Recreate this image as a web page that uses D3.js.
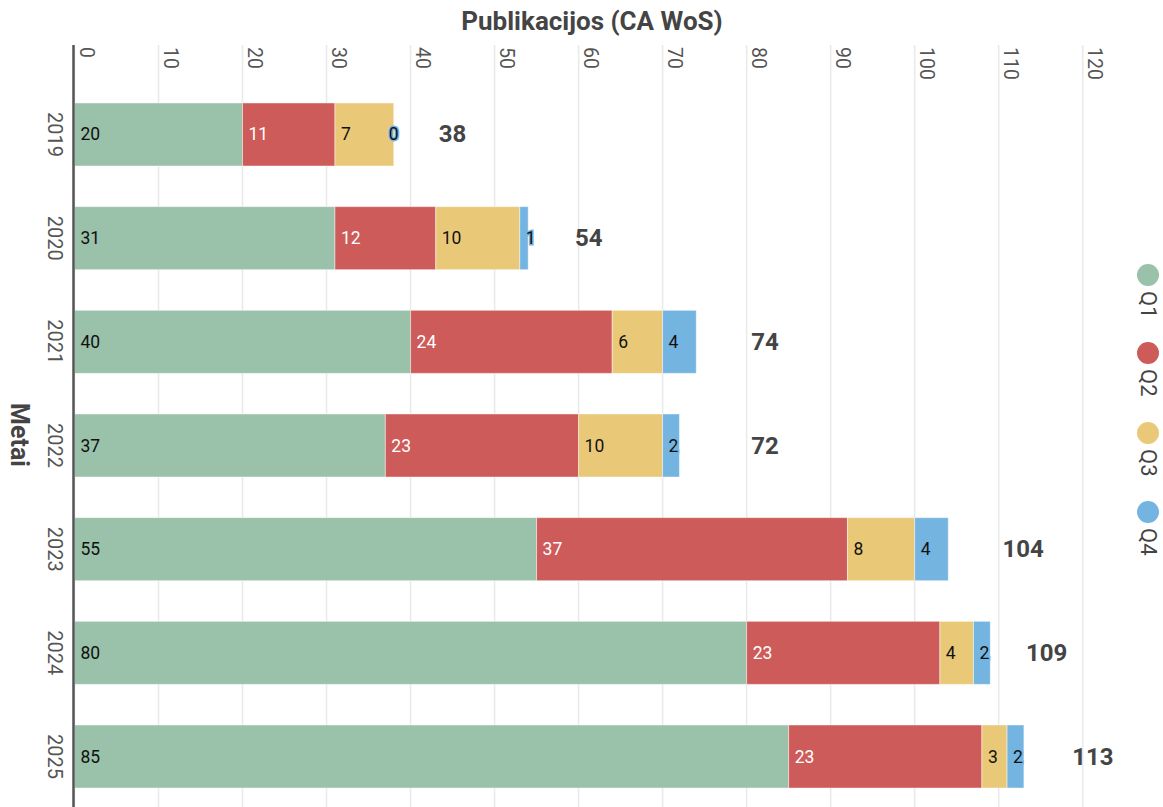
<!DOCTYPE html>
<html>
<head>
<meta charset="utf-8">
<script src="https://cdn.jsdelivr.net/npm/d3@7"></script>
<style>
  html, body { margin: 0; padding: 0; background: #fff; }
  svg { display: block; font-family: Roboto, "Noto Sans", sans-serif; }
</style>
</head>
<body>
<svg id="chart" width="1163" height="807"></svg>
<script>
const years = ["2019", "2020", "2021", "2022", "2023", "2024", "2025"];
const seriesNames = ["Q1", "Q2", "Q3", "Q4"];
const q1 = [20, 31, 40, 37, 55, 80, 85];
const q2 = [11, 12, 24, 23, 37, 23, 23];
const q3 = [7, 10, 6, 10, 8, 4, 3];
const q4 = [0, 1, 4, 2, 4, 2, 2];
const totals = [38, 54, 74, 72, 104, 109, 113];
// where the total labels sit (centre, in axis units)
const totalLabelAt = [45, 61.2, 82.2, 82.2, 112.9, 115.7, 121.2];
const xTicks = [0, 10, 20, 30, 40, 50, 60, 70, 80, 90, 100, 110, 120];
const colors = ["#9ac1aa", "#cd5b59", "#e9c978", "#74b4e1"];
const labelColors = ["#111", "#fff", "#111", "#111"];

const svg = d3.select("#chart");
const x = d3.scaleLinear().domain([0, 120]).range([74.5, 1082.7]);
const y = d3.scaleBand().domain(years).range([84, 807]).paddingInner(0.392).paddingOuter(0.183);

const values = [q1, q2, q3, q4];
const rows = years.map((yr, i) => {
  const r = { year: yr };
  seriesNames.forEach((s, k) => r[s] = values[k][i]);
  return r;
});
const stacked = d3.stack().keys(seriesNames)(rows);

// grid
svg.append("g").selectAll("line").data(xTicks).join("line")
  .attr("x1", d => x(d)).attr("x2", d => x(d))
  .attr("y1", 45).attr("y2", 807)
  .attr("stroke", "#e9e9e9").attr("stroke-width", 1.5);

// tick labels (rotated)
svg.append("g").selectAll("text").data(xTicks).join("text")
  .attr("transform", d => `translate(${x(d) + 12},47) rotate(90)`)
  .attr("text-anchor", "start")
  .attr("dominant-baseline", "central")
  .attr("font-size", 19.5)
  .attr("fill", "#555")
  .text(d => d);

// bars
const g = svg.append("g");
stacked.forEach((layer, k) => {
  g.append("g").selectAll("rect").data(layer).join("rect")
    .attr("x", d => x(d[0]))
    .attr("y", d => y(d.data.year))
    .attr("width", d => x(d[1]) - x(d[0]))
    .attr("height", y.bandwidth())
    .attr("fill", colors[k])
    .attr("stroke", "#fff").attr("stroke-opacity", 0.45).attr("stroke-width", 1);
});
// segment labels
stacked.forEach((layer, k) => {
  g.append("g").selectAll("text").data(layer).join("text")
    .attr("x", d => (d[1] - d[0]) === 0 ? x(d[0]) : x(d[0]) + 6)
    .attr("y", d => y(d.data.year) + y.bandwidth() / 2)
    .attr("text-anchor", d => (d[1] - d[0]) === 0 ? "middle" : "start")
    .attr("dominant-baseline", "central")
    .attr("font-size", 17.5)
    .attr("font-weight", 400)
    .attr("fill", labelColors[k])
    .attr("stroke", colors[k]).attr("stroke-width", 3)
    .attr("paint-order", "stroke")
    .text(d => d[1] - d[0]);
});

// totals
svg.append("g").selectAll("text").data(years).join("text")
  .attr("x", (d, i) => x(totalLabelAt[i]))
  .attr("y", d => y(d) + y.bandwidth() / 2)
  .attr("text-anchor", "middle")
  .attr("dominant-baseline", "central")
  .attr("font-size", 24).attr("font-weight", 700)
  .attr("fill", "#444")
  .text((d, i) => totals[i]);

// axis line
svg.append("line").attr("x1", 73.5).attr("x2", 73.5).attr("y1", 45).attr("y2", 807)
  .attr("stroke", "#555").attr("stroke-width", 2.5);

// year labels
svg.append("g").selectAll("text").data(years).join("text")
  .attr("transform", d => `translate(55,${y(d) + y.bandwidth() / 2}) rotate(90)`)
  .attr("text-anchor", "middle")
  .attr("dominant-baseline", "central")
  .attr("font-size", 20)
  .attr("fill", "#555")
  .text(d => d);

// titles
svg.append("text").attr("x", 592).attr("y", 21)
  .attr("text-anchor", "middle").attr("dominant-baseline", "central")
  .attr("font-size", 26).attr("font-weight", 700).attr("fill", "#444")
  .text("Publikacijos (CA WoS)");
svg.append("text").attr("transform", "translate(19,435) rotate(90)")
  .attr("text-anchor", "middle").attr("dominant-baseline", "central")
  .attr("font-size", 25).attr("font-weight", 700).attr("fill", "#444")
  .text("Metai");

// legend
const legendY = [275, 353, 433, 512];
const lg = svg.append("g").selectAll("g").data(seriesNames).join("g")
  .attr("transform", (d, i) => `translate(1148,${legendY[i]})`);
lg.append("circle").attr("r", 11).attr("fill", (d, i) => colors[i]);
lg.append("text").attr("transform", "translate(0,16) rotate(90)")
  .attr("text-anchor", "start").attr("dominant-baseline", "central")
  .attr("font-size", 22).attr("fill", "#444")
  .text(d => d);
</script>
</body>
</html>
